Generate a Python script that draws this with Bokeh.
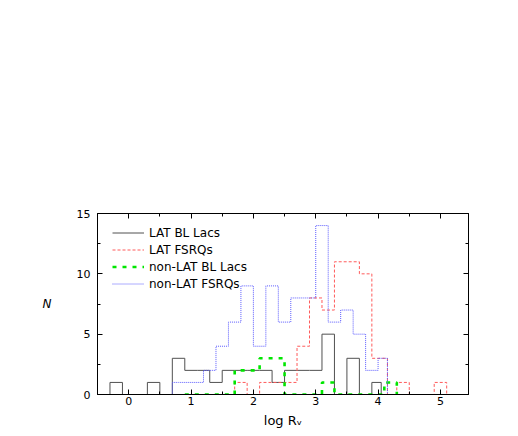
from bokeh.plotting import figure
from bokeh.models import Range1d, LinearAxis, FixedTicker, Legend, LegendItem
from bokeh.embed import file_html
from bokeh.resources import INLINE

# ---- data: histogram bin edges and counts (log R_v) ----
lat_bll_edges = [-0.3, -0.1, 0.1, 0.3, 0.5, 0.7, 0.9, 1.1, 1.3, 1.5, 1.7, 1.9,
                 2.1, 2.3, 2.5, 2.7, 2.9, 3.1, 3.3, 3.5, 3.7, 3.9, 4.05]
lat_bll_counts = [1, 0, 0, 1, 0, 3, 2, 2, 1, 2, 2, 2, 2, 1, 2, 2, 2, 5, 0, 3, 0, 1]

lat_fsrq_edges = [1.7, 1.9, 2.1, 2.3, 2.5, 2.7, 2.9, 3.1, 3.3, 3.5, 3.7, 3.9,
                  4.15, 4.3, 4.5, 4.7, 4.9, 5.1]
lat_fsrq_counts = [1, 0, 1, 1, 1, 4, 8, 7, 11, 11, 10, 3, 0, 1, 0, 0, 1]

nonlat_bll_edges = [0.9, 1.1, 1.3, 1.5, 1.7, 1.9, 2.1, 2.3, 2.5, 2.7, 2.9, 3.1,
                    3.3, 3.5, 3.7, 3.9, 4.1, 4.3]
nonlat_bll_counts = [0, 0, 0, 0, 2, 2, 3, 3, 0, 0, 0, 1, 0, 0, 0, 0, 1]

nonlat_fsrq_edges = [0.7, 0.8, 1.0, 1.2, 1.4, 1.6, 1.8, 2.0, 2.2, 2.4, 2.6, 2.8,
                     3.0, 3.2, 3.4, 3.6, 3.8, 4.0, 4.15]
nonlat_fsrq_counts = [1, 1, 1, 2, 4, 6, 9, 4, 9, 6, 8, 8, 14, 6, 7, 5, 2, 3]

series_names = ["LAT BL Lacs", "LAT FSRQs", "non-LAT BL Lacs", "non-LAT FSRQs"]
x_ticks = [0, 1, 2, 3, 4, 5]
x_minor = [0.5, 1.5, 2.5, 3.5, 4.5, 5.5]
y_ticks = [0, 5, 10, 15]
y_minor = [2.5, 7.5, 12.5]
x_title = "log R\u1d65"
y_title = "N"

FONT = "DejaVu Sans"


def steps(edges, counts):
    xs = [edges[0]]
    ys = [0]
    for i, c in enumerate(counts):
        xs += [edges[i], edges[i + 1]]
        ys += [c, c]
    xs.append(edges[-1])
    ys.append(0)
    return xs, ys


p = figure(width=508, height=430,
           x_range=Range1d(-0.5, 5.45), y_range=Range1d(0, 15),
           output_backend="svg", toolbar_location=None,
           min_border_left=97, min_border_right=40,
           min_border_top=213, min_border_bottom=36)
p.xgrid.visible = False
p.ygrid.visible = False
p.outline_line_color = "black"
p.background_fill_color = "white"
p.border_fill_color = "white"


def style_axis(ax):
    ax.major_tick_in = 5
    ax.major_tick_out = 0
    ax.minor_tick_in = 3
    ax.minor_tick_out = 0
    ax.axis_line_color = "black"
    ax.major_tick_line_color = "black"
    ax.minor_tick_line_color = "black"
    ax.major_label_text_font = FONT
    ax.major_label_text_font_size = "11px"
    ax.major_label_text_color = "black"


p.xaxis.ticker = FixedTicker(ticks=x_ticks, minor_ticks=x_minor)
p.yaxis.ticker = FixedTicker(ticks=y_ticks, minor_ticks=y_minor)
style_axis(p.xaxis[0])
style_axis(p.yaxis[0])
p.xaxis.major_label_standoff = 2
p.yaxis.major_label_standoff = 7

p.xaxis.axis_label = x_title
p.xaxis.axis_label_text_font = FONT
p.xaxis.axis_label_text_font_size = "13px"
p.xaxis.axis_label_text_font_style = "normal"
p.xaxis.axis_label_text_color = "black"
p.xaxis.axis_label_standoff = 5

p.yaxis.axis_label = y_title
p.yaxis.axis_label_text_font = FONT
p.yaxis.axis_label_text_font_size = "12px"
p.yaxis.axis_label_text_font_style = "italic"
p.yaxis.axis_label_text_color = "black"
p.yaxis.axis_label_orientation = "horizontal"
p.yaxis.axis_label_standoff = 22

top = LinearAxis(ticker=FixedTicker(ticks=x_ticks, minor_ticks=x_minor),
                 major_label_overrides={t: "" for t in x_ticks})
right = LinearAxis(ticker=FixedTicker(ticks=y_ticks, minor_ticks=y_minor),
                   major_label_overrides={t: "" for t in y_ticks})
style_axis(top)
style_axis(right)
p.add_layout(top, "above")
p.add_layout(right, "right")

styles = [
    dict(line_color="#505050", line_width=1.0, line_dash="solid"),
    dict(line_color="#ff5a5a", line_width=1.0, line_dash="3 2"),
    dict(line_color="#00e600", line_width=2.6, line_dash="4 6"),
    dict(line_color="#5a5aff", line_width=1.0, line_dash="1 1"),
]
data = [(lat_bll_edges, lat_bll_counts), (lat_fsrq_edges, lat_fsrq_counts),
        (nonlat_bll_edges, nonlat_bll_counts), (nonlat_fsrq_edges, nonlat_fsrq_counts)]

items = []
for name, (e, c), st in zip(series_names, data, styles):
    xs, ys = steps(e, c)
    r = p.line(xs, ys, **st)
    items.append(LegendItem(label=name, renderers=[r]))

legend = Legend(items=items, location=(15, 102), padding=0, margin=0,
                border_line_color=None, background_fill_alpha=0,
                glyph_width=32, glyph_height=17, label_height=17, spacing=0,
                label_standoff=5, label_text_font=FONT,
                label_text_font_size="12px", label_text_color="black")
p.add_layout(legend)

open("out.html", "w").write(file_html(p, INLINE))
